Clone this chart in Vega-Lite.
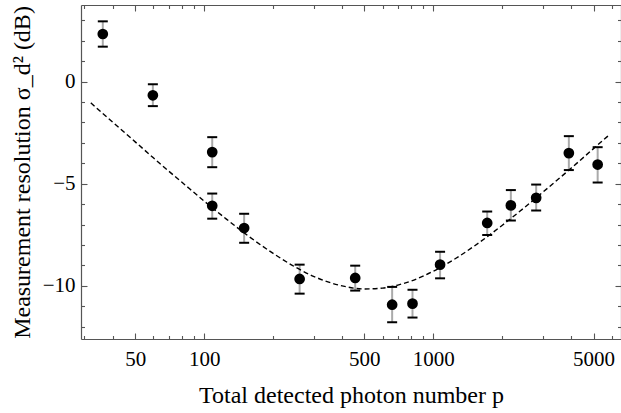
{
  "$schema": "https://vega.github.io/schema/vega-lite/v6.json",
  "width": 540,
  "height": 334,
  "autosize": {"type": "none"},
  "padding": {"left": 81, "top": 5, "right": 0, "bottom": 74},
  "background": "white",
  "config": {
    "view": {"stroke": null},
    "axis": {
      "labelFont": "Liberation Serif",
      "titleFont": "Liberation Serif",
      "labelFontSize": 21,
      "titleFontSize": 24,
      "titleFontWeight": "normal",
      "labelColor": "black",
      "titleColor": "black",
      "domainColor": "#555555",
      "tickColor": "#555555",
      "domainWidth": 1.2,
      "tickWidth": 1.1,
      "grid": false,
      "labelOverlap": false,
      "labelFlush": false
    }
  },
  "datasets": {
    "pts": [
      {"p": 36.1, "y": 2.33, "lo": 1.71, "hi": 2.95},
      {"p": 59.7, "y": -0.67, "lo": -1.2, "hi": -0.13},
      {"p": 108.4, "y": -3.45, "lo": -4.19, "hi": -2.72},
      {"p": 108.4, "y": -6.08, "lo": -6.71, "hi": -5.48},
      {"p": 149.4, "y": -7.17, "lo": -7.89, "hi": -6.47},
      {"p": 260.9, "y": -9.66, "lo": -10.38, "hi": -8.96},
      {"p": 456, "y": -9.61, "lo": -10.23, "hi": -9.01},
      {"p": 661, "y": -10.92, "lo": -11.78, "hi": -10.05},
      {"p": 811, "y": -10.87, "lo": -11.55, "hi": -10.19},
      {"p": 1070, "y": -8.96, "lo": -9.63, "hi": -8.33},
      {"p": 1718, "y": -6.92, "lo": -7.51, "hi": -6.36},
      {"p": 2179, "y": -6.06, "lo": -6.8, "hi": -5.31},
      {"p": 2810, "y": -5.69, "lo": -6.31, "hi": -5.04},
      {"p": 3902, "y": -3.5, "lo": -4.33, "hi": -2.67},
      {"p": 5212, "y": -4.06, "lo": -4.94, "hi": -3.21}
    ],
    "curve": [
      {"p": 32, "y": -1.04},
      {"p": 40, "y": -2.0},
      {"p": 50, "y": -2.95},
      {"p": 60, "y": -3.73},
      {"p": 70, "y": -4.38},
      {"p": 80, "y": -4.93},
      {"p": 100, "y": -5.85},
      {"p": 125, "y": -6.73},
      {"p": 150, "y": -7.42},
      {"p": 200, "y": -8.41},
      {"p": 250, "y": -9.08},
      {"p": 300, "y": -9.53},
      {"p": 400, "y": -10.0},
      {"p": 500, "y": -10.15},
      {"p": 600, "y": -10.11},
      {"p": 700, "y": -9.96},
      {"p": 800, "y": -9.76},
      {"p": 1000, "y": -9.28},
      {"p": 1250, "y": -8.66},
      {"p": 1500, "y": -8.07},
      {"p": 2000, "y": -7.03},
      {"p": 2500, "y": -6.16},
      {"p": 3000, "y": -5.42},
      {"p": 4000, "y": -4.23},
      {"p": 5000, "y": -3.28},
      {"p": 5840, "y": -2.62}
    ]
  },
  "resolve": {"axis": {"x": "independent", "y": "independent"}},
  "layer": [
    {
      "data": {"name": "pts"},
      "mark": {"type": "rule", "color": "#aaaaaa", "strokeWidth": 2},
      "encoding": {
        "x": {"field": "p", "type": "quantitative", "scale": {"type": "log", "domain": [29, 6590], "nice": false}, "axis": null},
        "y": {"field": "lo", "type": "quantitative", "scale": {"domain": [-12.6, 3.75], "nice": false, "zero": false}, "axis": null},
        "y2": {"field": "hi"}
      }
    },
    {
      "data": {"name": "pts"},
      "mark": {"type": "tick", "orient": "horizontal", "size": 10, "thickness": 2, "color": "black", "opacity": 1},
      "encoding": {
        "x": {"field": "p", "type": "quantitative", "scale": {"type": "log", "domain": [29, 6590], "nice": false}, "axis": null},
        "y": {"field": "lo", "type": "quantitative", "scale": {"domain": [-12.6, 3.75], "nice": false, "zero": false}, "axis": null}
      }
    },
    {
      "data": {"name": "pts"},
      "mark": {"type": "tick", "orient": "horizontal", "size": 10, "thickness": 2, "color": "black", "opacity": 1},
      "encoding": {
        "x": {"field": "p", "type": "quantitative", "scale": {"type": "log", "domain": [29, 6590], "nice": false}, "axis": null},
        "y": {"field": "hi", "type": "quantitative", "scale": {"domain": [-12.6, 3.75], "nice": false, "zero": false}, "axis": null}
      }
    },
    {
      "data": {"name": "curve"},
      "mark": {"type": "line", "color": "black", "strokeDash": [5, 3], "strokeWidth": 1.4, "interpolate": "monotone"},
      "encoding": {
        "x": {"field": "p", "type": "quantitative", "scale": {"type": "log", "domain": [29, 6590], "nice": false},
          "axis": {"orient": "top", "title": null, "labels": false,
            "values": [30, 40, 50, 60, 70, 80, 90, 100, 200, 300, 400, 500, 600, 700, 800, 900, 1000, 2000, 3000, 4000, 5000, 6000],
            "tickSize": {"condition": {"test": "indexof([50,100,500,1000,5000], datum.value) >= 0", "value": -6}, "value": -3.5}}},
        "y": {"field": "y", "type": "quantitative", "scale": {"domain": [-12.6, 3.75], "nice": false, "zero": false},
          "axis": {"orient": "right", "title": null, "labels": false,
            "values": [-12, -11, -10, -9, -8, -7, -6, -5, -4, -3, -2, -1, 0, 1, 2, 3],
            "tickSize": {"condition": {"test": "datum.value % 5 === 0", "value": -6}, "value": -3.5}}}
      }
    },
    {
      "data": {"name": "pts"},
      "mark": {"type": "circle", "size": 115, "color": "black", "opacity": 1},
      "encoding": {
        "x": {"field": "p", "type": "quantitative", "scale": {"type": "log", "domain": [29, 6590], "nice": false},
          "axis": {"orient": "bottom", "title": "Total detected photon number p", "titlePadding": 12, "labelPadding": 15,
            "values": [30, 40, 50, 60, 70, 80, 90, 100, 200, 300, 400, 500, 600, 700, 800, 900, 1000, 2000, 3000, 4000, 5000, 6000],
            "labelExpr": "indexof([50,100,500,1000,5000], datum.value) >= 0 ? format(datum.value, 'd') : ''",
            "tickSize": {"condition": {"test": "indexof([50,100,500,1000,5000], datum.value) >= 0", "value": -6}, "value": -3.5}}},
        "y": {"field": "y", "type": "quantitative", "scale": {"domain": [-12.6, 3.75], "nice": false, "zero": false},
          "axis": {"orient": "left", "title": "Measurement resolution σ_d² (dB)", "titlePadding": 8, "labelPadding": 12,
            "values": [-12, -11, -10, -9, -8, -7, -6, -5, -4, -3, -2, -1, 0, 1, 2, 3],
            "labelExpr": "datum.value % 5 === 0 ? format(datum.value, 'd') : ''",
            "tickSize": {"condition": {"test": "datum.value % 5 === 0", "value": -6}, "value": -3.5}}}
      }
    }
  ]
}
